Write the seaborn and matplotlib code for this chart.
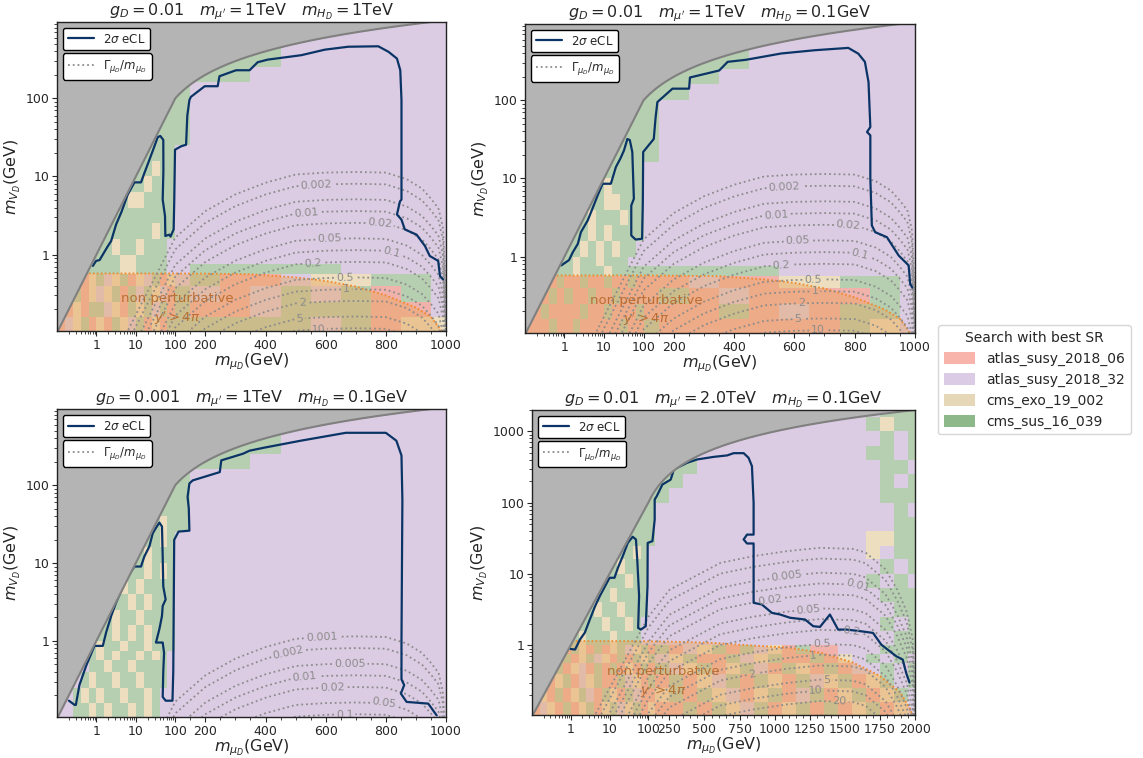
import numpy as np
import matplotlib
matplotlib.use("Agg")
import matplotlib.pyplot as plt
from matplotlib.colors import ListedColormap
from matplotlib.lines import Line2D
from matplotlib.patches import Patch
from matplotlib.ticker import FixedLocator, FixedFormatter, NullFormatter, LogLocator
import seaborn as sns

sns.set_theme(style="ticks")
plt.rcParams["font.family"] = ["DejaVu Sans"]
plt.rcParams["mathtext.fontset"] = "dejavusans"
plt.rcParams["axes.edgecolor"] = "#222222"

# ---------------------------------------------------------------- searches
search_names = ["atlas_susy_2018_06", "atlas_susy_2018_32", "cms_exo_19_002", "cms_sus_16_039"]
search_codes = "apeg"
cell_colors = ["#f0b2aa", "#dccce3", "#ecdebe", "#b5cfb0"]
legend_colors = ["#f8b3aa", "#dccbe4", "#e6d7b9", "#8db98a"]

# ---------------------------------------------------------------- mass grids (GeV)
x_edges_1tev = [0.1, 0.16, 0.25, 0.4, 0.63, 1.0, 1.6, 2.5, 4.0, 6.3, 10, 16, 25, 40, 63, 100,
                150, 250, 350, 450, 550, 650, 750, 850, 950, 1000]
x_edges_2tev = [0.1, 0.16, 0.25, 0.4, 0.63, 1.0, 1.6, 2.5, 4.0, 6.3, 10, 16, 25, 40, 63, 100,
                150, 250, 350, 450, 550, 650, 750, 850, 950, 1050, 1150, 1250, 1350, 1450,
                1550, 1650, 1750, 1850, 1950, 2000]
y_edges_1tev = [0.1, 0.16, 0.25, 0.4, 0.56, 0.75, 1.0, 1.6, 2.5, 4.0, 6.3, 10, 16, 25, 40, 63,
                100, 160, 250, 400, 630, 1000]
y_edges_2tev = y_edges_1tev + [1600, 2500]

# best signal region per grid point (rows from high to low m_VD)
best_sr_p1 = [
    "..... ..... ..... ..... ppppp",
    "..... ..... ..... ...gp ppppp",
    "..... ..... ..... ..ggp ppppp",
    "..... ..... ..... .ggpp ppppp",
    "..... ..... ..... gpppp ppppp",
    "..... ..... ....g gpppp ppppp",
    "..... ..... ...gg gpppp ppppp",
    "..... ..... ..ggg gpppp ppppp",
    "..... ..... .gggg ppppp ppppp",
    "..... ..... ggegg ppppp ppppp",
    "..... ....g geggg ppppp ppppp",
    "..... ...ge egggg ppppp ppppp",
    "..... ..ggg ggggg ppppp ppppp",
    "..... .gggg ggegg ppppp ppppp",
    "..... ggegg egggp ppppp ppppp",
    "....g gggee ggggp ppppp ppppp",
    "...gg gggee ggggp pgggg gpppp",
    "...ae gpega epgae pgaap eeggp",
    "..gae pegag pgepa gpapg pgagp",
    ".aeag gpeag egpga gaapg ggaap",
    "apega eagep gaeag ggggg pgaee",
]
best_sr_p2 = [
    "..... ..... ..... ..... ppppp",
    "..... ..... ..... ...gp ppppp",
    "..... ..... ..... ..ggp ppppp",
    "..... ..... ..... .ggpp ppppp",
    "..... ..... ..... ggppp ppppp",
    "..... ..... ....g gpppp ppppp",
    "..... ..... ...gg gpppp ppppp",
    "..... ..... ..ggg gpppp ppppp",
    "..... ..... .gggg gpppp ppppp",
    "..... ..... ggggg ppppp ppppp",
    "..... ....g egggg ppppp ppppp",
    "..... ...gg eeggg ppppp ppppp",
    "..... ..geg ggegg ppppp ppppp",
    "..... .ggeg egggg ppppp ppppp",
    "..... ggege geggp ppppp ppppp",
    "....g gegge gggpp ppppp ppppp",
    "...gg geggg egggg ggggg ppppp",
    "...ag aagaa gaaga aapaa eeggp",
    "..aga gaaga agaaa agapa aaagp",
    ".agaa aagaa gaaag aaaga paggp",
    "aaaga agaaa aagaa gaaaa aagep",
]
best_sr_p3 = [
    "..... ..... ..... ..... ppppp",
    "..... ..... ..... ...gp ppppp",
    "..... ..... ..... ..ggp ppppp",
    "..... ..... ..... .ggpp ppppp",
    "..... ..... ..... gpppp ppppp",
    "..... ..... ....g gpppp ppppp",
    "..... ..... ...gg gpppp ppppp",
    "..... ..... ..geg gpppp ppppp",
    "..... ..... .ggeg ppppp ppppp",
    "..... ..... geggg ppppp ppppp",
    "..... ....g gegeg ppppp ppppp",
    "..... ...eg egggg ppppp ppppp",
    "..... ..gge geggg ppppp ppppp",
    "..... .gegg egggg ppppp ppppp",
    "..... ggege geggg ppppp ppppp",
    "....g eggeg geggg ppppp ppppp",
    "...gg egegg egegp ppppp ppppp",
    "...pg gegge ggggp ppppp ppppp",
    "..pge ggegg egggp ppppp ppppp",
    ".pgeg eggeg gegpp ppppp ppppp",
    "ppgge gegge gegpp ppppp ppppp",
]
best_sr_p4 = [
    "..... ..... ..... ..... ..... ..... ppggg",
    "..... ..... ..... ..... ppppp ppppp pgegg",
    "..... ..... ..... ..... ppppp ppppp ppgpg",
    "..... ..... ..... ...gp ppppp ppppp pggpg",
    "..... ..... ..... ..ggp ppppp ppppp ppggp",
    "..... ..... ..... .ggpp ppppp ppppp ppgpg",
    "..... ..... ..... ggppp ppppp ppppp ppggg",
    "..... ..... ....g gpppp ppppp ppppp pppgp",
    "..... ..... ...gg gpppp ppppp ppppp pppgg",
    "..... ..... ..ggg gpppp ppppp ppppp peegg",
    "..... ..... .ggeg ppppp ppppp ppppp pepgg",
    "..... ..... geggg ppppp ppppp ppppp ppgpg",
    "..... ....g ggegg ppppp ppppp ppppp pgpgp",
    "..... ...gg egggg ppppp ppppp ppppp ppggg",
    "..... ..geg geggg ppppp ppppp ppppp pppgg",
    "..... .ggge ggegp ppppp ppppp ppppp ppgpg",
    "..... geggg egggp ppppp ppppp ppppp pppgg",
    "....a geaga egpeg agape gagpe agaap ppggg",
    "...ag aegpe agage gpega agpeg aagae pgpgp",
    "...ga epaga gaeag agpeg aegpa geaga ppgpg",
    "..aeg apega agpea gagae pgage agpeg aegpg",
    ".eaga egpag eagpa aegag epaeg apgae gaegp",
    "apeag aegae gpega eaaga gepga egaga egaep",
]

# 2 sigma expected exclusion contours
ecl_x_p1 = [0.81, 0.98, 1.2, 1.87, 2.36, 3.15, 4.3, 6.2, 9.2, 13.5, 16.4, 22, 28.4, 35.8, 41.7,
            49.7, 50, 48, 55, 56, 70.7, 76, 91, 94.4, 98.6, 119, 136, 140, 147, 152, 198, 241,
            247, 302, 347, 374, 407, 519, 597, 675, 775, 809, 837, 848, 852, 852, 847, 837,
            852, 863, 902, 930, 946, 974, 980, 990]
ecl_y_p1 = [0.716, 0.83, 0.85, 1.24, 1.49, 2.43, 3.5, 5.85, 8.4, 8.4, 11, 16.3, 23, 31.8, 33,
            29.4, 12, 5.06, 3.1, 1.73, 1.8, 1.7, 2.1, 5.06, 22, 24.3, 25.5, 60, 95, 104.5, 143,
            143, 192, 229, 229, 290, 313, 357, 420, 458, 464, 394, 323, 229, 95, 5.06, 4.8,
            3.26, 2.8, 2.1, 1.8, 1.29, 0.96, 0.83, 0.53, 0.48]
ecl_x_p2 = [0.83, 1.1, 1.3, 1.63, 2.17, 2.6, 3.87, 5.0, 6.9, 9.2, 14.9, 20, 26, 32, 39, 45, 52,
            57, 49, 49, 63, 92, 96, 98, 134, 140, 146, 196, 251, 254, 351, 379, 439, 557, 668,
            779, 812, 834, 846, 852, 841, 852, 852, 857, 868, 907, 946, 979, 984, 991]
ecl_y_p2 = [0.77, 0.85, 0.9, 1.14, 1.45, 2.05, 2.9, 4.0, 6.06, 8.55, 8.55, 14, 18, 22.8, 32, 31,
            21.8, 5.5, 4.5, 1.86, 1.65, 1.69, 5, 21.8, 32, 60, 95, 141, 141, 196, 241, 311, 330,
            398, 438, 469, 396, 311, 171, 45.5, 39.3, 35.6, 10, 2.5, 2.05, 1.77, 1.03, 0.77,
            0.45, 0.4]
ecl_x_p3 = [0.2, 0.28, 0.3, 0.37, 0.55, 0.89, 1.45, 1.76, 2.36, 3.15, 4.2, 5.65, 9.2, 13.5,
            16.4, 22, 26.8, 32, 39.5, 46, 48, 49.6, 57, 48, 46, 39.5, 32.4, 48, 52, 49.6, 48,
            57, 85, 89, 94, 111, 147, 145, 141, 147, 158, 248, 253, 325, 347, 396, 517, 667,
            800, 835, 852, 855, 852, 852, 861, 850, 869, 941, 969]
ecl_y_p3 = [0.17, 0.15, 0.15, 0.27, 0.48, 0.86, 0.86, 1.28, 2.08, 3.09, 4.3, 6.1, 9.0, 9.0,
            12.1, 16.3, 24, 28, 33, 29.4, 12.1, 5.0, 3.4, 2.8, 2.08, 1.41, 0.95, 0.95, 0.7, 0.4,
            0.19, 0.17, 0.17, 0.4, 19.8, 25.3, 26, 50, 70.6, 105, 115, 147, 208, 253, 277, 303,
            372, 470, 470, 372, 240, 64, 1.0, 0.32, 0.27, 0.21, 0.164, 0.156, 0.11]
ecl_x_p4 = [0.96, 1.29, 1.72, 2.3, 3.1, 4.2, 5.6, 10, 13.4, 16.4, 21.9, 29.4, 39.4, 47.9, 52,
            57.7, 54.5, 63.9, 85.6, 95, 96, 129, 145, 145, 160, 200, 259, 282, 377, 448, 566,
            661, 708, 779, 814, 838, 850, 850, 803, 779, 803, 850, 850, 909, 980, 1039, 1110,
            1216, 1275, 1323, 1394, 1452, 1512, 1618, 1701, 1760, 1867, 1913, 1937, 1961]
ecl_y_p4 = [0.89, 0.87, 1.2, 1.5, 2.3, 3.5, 4.9, 8.85, 8.85, 12.2, 17.8, 27.3, 33.3, 30.5, 15,
            4.9, 1.75, 1.66, 1.85, 6.7, 27.3, 28.9, 58, 111, 124, 180, 211, 293, 364, 405, 440,
            461, 496, 496, 427, 327, 100, 35.7, 35.7, 30.5, 26.8, 26.8, 3.94, 3.73, 2.85, 2.7,
            2.43, 2.3, 1.85, 1.81, 2.7, 1.66, 1.66, 1.57, 1.49, 1.02, 0.7, 0.63, 0.41, 0.3]

# width-to-mass ratio: m_VD at which Gamma/m = 0.001, and the levels shown
width_ref_level = 0.001
width_x_1tev = [0.1, 1, 10, 100, 200, 300, 400, 500, 600, 700, 800, 870, 920, 950, 975, 990, 1000]
width_y_p1 = [0.0017, 0.017, 0.17, 1.65, 3.6, 5.9, 8.3, 10.6, 11.2, 11.4, 11.2, 9.2, 7.0, 5.2,
              3.9, 2.2, 0.3]
width_y_p3 = [0.00017, 0.0017, 0.017, 0.165, 0.36, 0.59, 0.83, 1.06, 1.12, 1.14, 1.12, 0.92,
              0.70, 0.52, 0.39, 0.22, 0.03]
width_x_2tev = [0.1, 1, 10, 100, 250, 613, 848, 1086, 1323, 1558, 1648, 1790, 1873, 1940, 1985, 2000]
width_y_p4 = [0.0025, 0.025, 0.25, 2.5, 6.0, 14.3, 17.8, 20.9, 23.3, 22.5, 20.0, 11.6, 6.05, 3.0,
              1.2, 0.1]
width_levels = [0.001, 0.002, 0.005, 0.01, 0.02, 0.05, 0.1, 0.2, 0.5, 1, 2, 5, 10, 20, 50]

wlab_x_p1 = [569, 536, 780, 613, 819, 558, 663, 669, 522, 513, 575]
wlab_y_p1 = [7.5, 3.26, 2.5, 1.57, 1.09, 0.75, 0.52, 0.36, 0.252, 0.157, 0.117]
wlab_x_p2 = [567, 540, 779, 612, 818, 557, 662, 668, 623, 612, 679]
wlab_y_p2 = [7.6, 3.3, 2.5, 1.57, 1.08, 0.77, 0.52, 0.356, 0.25, 0.156, 0.116]
wlab_x_p3 = [586, 477, 680, 530, 622, 795, 663]
wlab_y_p3 = [1.1, 0.69, 0.52, 0.33, 0.255, 0.16, 0.12]
wlab_x_p4 = [1086, 1594, 963, 1240, 1548, 1335, 1275, 838, 1370, 1294, 1464]
wlab_y_p4 = [9.5, 7.1, 4.48, 3.24, 1.62, 1.02, 0.72, 0.40, 0.33, 0.226, 0.163]

# y' > 4 pi boundary
npert_x_1tev = [0.1, 100, 200, 350, 500, 600, 700, 800, 900, 950, 985, 992]
npert_y_1tev = [0.573, 0.573, 0.57, 0.56, 0.51, 0.46, 0.39, 0.30, 0.21, 0.16, 0.105, 0.09]
npert_x_2tev = [0.1, 100, 300, 567, 808, 1092, 1326, 1560, 1752, 1894, 1965, 1995]
npert_y_2tev = [1.15, 1.14, 1.12, 1.08, 1.0, 0.93, 0.79, 0.57, 0.37, 0.22, 0.128, 0.09]

titles = [
    r"$g_D = 0.01\quad m_{\mu'} = 1$TeV$\quad m_{H_D} = 1$TeV",
    r"$g_D = 0.01\quad m_{\mu'} = 1$TeV$\quad m_{H_D} = 0.1$GeV",
    r"$g_D = 0.001\quad m_{\mu'} = 1$TeV$\quad m_{H_D} = 0.1$GeV",
    r"$g_D = 0.01\quad m_{\mu'} = 2.0$TeV$\quad m_{H_D} = 0.1$GeV",
]
xticks_1tev = [1, 10, 100, 200, 400, 600, 800, 1000]
xticks_2tev = [1, 10, 100, 250, 500, 750, 1000, 1250, 1500, 1750, 2000]

# ---------------------------------------------------------------- styling
navy = "#0b3466"
width_gray = "#8c8c8c"
excluded_gray = "#b4b4b4"
npert_fill = "#e9a258"
npert_text = "#b5672a"


def mixed_scale(xmax):
    """log10 below 100 GeV, linear above."""
    k = (xmax - 100.0) / 6.87

    def fwd(x):
        x = np.asarray(x, dtype=float)
        return np.where(x <= 100, np.log10(np.clip(x, 1e-12, None)), 2 + (x - 100) / k)

    def inv(u):
        u = np.asarray(u, dtype=float)
        return np.where(u <= 2, 10 ** np.clip(u, -12, 2), 100 + (u - 2) * k)

    return fwd, inv


panels = [
    dict(rect=[0.0499, 0.5633, 0.3403, 0.4077], title=titles[0], xmax=1000, ytop=950,
         xticks=xticks_1tev, yticks=[1, 10, 100], xe=x_edges_1tev, ye=y_edges_1tev,
         cells=best_sr_p1, ex=ecl_x_p1, ey=ecl_y_p1, wx=width_x_1tev, wy=width_y_p1,
         lx=wlab_x_p1, ly=wlab_y_p1, npx=npert_x_1tev, npy=npert_y_1tev,
         nptxt=(0.31, 0.07)),
    dict(rect=[0.4593, 0.5607, 0.3412, 0.4077], title=titles[1], xmax=1000, ytop=950,
         xticks=xticks_1tev, yticks=[1, 10, 100], xe=x_edges_1tev, ye=y_edges_1tev,
         cells=best_sr_p2, ex=ecl_x_p2, ey=ecl_y_p2, wx=width_x_1tev, wy=width_y_p1,
         lx=wlab_x_p2, ly=wlab_y_p2, npx=npert_x_1tev, npy=npert_y_1tev,
         nptxt=(0.312, 0.07)),
    dict(rect=[0.0499, 0.0541, 0.3403, 0.4063], title=titles[2], xmax=1000, ytop=950,
         xticks=xticks_1tev, yticks=[1, 10, 100], xe=x_edges_1tev, ye=y_edges_1tev,
         cells=best_sr_p3, ex=ecl_x_p3, ey=ecl_y_p3, wx=width_x_1tev, wy=width_y_p3,
         lx=wlab_x_p3, ly=wlab_y_p3, npx=None, npy=None, nptxt=None),
    dict(rect=[0.4654, 0.0567, 0.3351, 0.4024], title=titles[3], xmax=2000, ytop=2000,
         xticks=xticks_2tev, yticks=[1, 10, 100, 1000], xe=x_edges_2tev, ye=y_edges_2tev,
         cells=best_sr_p4, ex=ecl_x_p4, ey=ecl_y_p4, wx=width_x_2tev, wy=width_y_p4,
         lx=wlab_x_p4, ly=wlab_y_p4, npx=npert_x_2tev, npy=npert_y_2tev,
         nptxt=(0.344, 0.107)),
]

fig = plt.figure(figsize=(11.43, 7.58), dpi=100)
cell_cmap = ListedColormap(cell_colors)
ybot = 0.105

for p in panels:
    ax = fig.add_axes(p["rect"])
    xmax, ytop = p["xmax"], p["ytop"]
    fwd, inv = mixed_scale(xmax)
    ax.set_xscale("function", functions=(fwd, inv))
    ax.set_yscale("log")
    ax.set_xlim(0.1, xmax)
    ax.set_ylim(ybot, ytop)

    # best signal region map
    codes = np.array([[search_codes.find(ch) if ch != "." else np.nan
                       for ch in row.replace(" ", "")] for row in p["cells"][::-1]], dtype=float)
    ax.pcolormesh(np.array(p["xe"], float), np.array(p["ye"], float),
                  np.ma.masked_invalid(codes), cmap=cell_cmap, vmin=-0.5, vmax=3.5,
                  shading="flat", edgecolors="none", antialiased=False, zorder=0.5)

    # non-perturbative region
    if p["npx"] is not None:
        ax.fill_between(p["npx"], ybot * 0.5, p["npy"], color=npert_fill, alpha=0.42,
                        lw=0, zorder=1)
        ax.plot(p["npx"], p["npy"], color="#f08a2c", ls=(0, (1, 1.2)), lw=1.3, zorder=1.1)
        ax.text(*p["nptxt"], "non perturbative\n$y' > 4\\pi$", transform=ax.transAxes,
                ha="center", va="center", color=npert_text, fontsize=9.5, alpha=0.9,
                linespacing=1.3, zorder=5)

    # Gamma / m contours
    u = np.linspace(fwd(0.1), fwd(xmax), 800)
    gx = inv(u)
    gy = np.geomspace(0.09, ytop * 1.1, 500)
    yref = 10 ** np.interp(u, fwd(np.array(p["wx"], float)), np.log10(p["wy"]))
    Z = width_ref_level * (yref[None, :] / gy[:, None]) ** 2
    cs = ax.contour(gx, gy, Z, levels=width_levels, colors=width_gray, linestyles=":",
                    linewidths=1.3, zorder=2)
    ax.clabel(cs, manual=list(zip(p["lx"], p["ly"])), inline=True,
              inline_spacing=2, fmt=lambda v: f"{v:g}", fontsize=8, colors=width_gray)

    # expected exclusion
    sns.lineplot(x=p["ex"], y=p["ey"], sort=False, estimator=None, color=navy, lw=1.6,
                 ax=ax, zorder=3, legend=False)

    # kinematically forbidden: m_VD > m_muD
    bx = np.concatenate([np.geomspace(0.1, 100, 40), np.linspace(100, xmax, 400)[1:]])
    ax.fill_between(bx, bx, ytop * 2, color=excluded_gray, lw=0, zorder=4)
    ax.plot(bx, bx, color="#808080", lw=1.5, zorder=4.5)

    ax.set_xlim(0.1, xmax)
    ax.set_ylim(ybot, ytop)

    xt = p["xticks"]
    ax.xaxis.set_major_locator(FixedLocator(xt))
    ax.xaxis.set_major_formatter(FixedFormatter([f"{t:g}" for t in xt]))
    minor = [m * d for d in (0.1, 1, 10) for m in range(2, 10)]
    minor += [v for v in range(150, xmax, 50) if v not in xt]
    ax.xaxis.set_minor_locator(FixedLocator(minor))
    ax.xaxis.set_minor_formatter(NullFormatter())
    yt = p["yticks"]
    ax.yaxis.set_major_locator(FixedLocator(yt))
    ax.yaxis.set_major_formatter(FixedFormatter([f"{t:g}" for t in yt]))
    ax.yaxis.set_minor_locator(LogLocator(base=10, subs=np.arange(2, 10)))
    ax.yaxis.set_minor_formatter(NullFormatter())
    ax.tick_params(which="major", length=3.5, width=0.8, labelsize=9, pad=2)
    ax.tick_params(which="minor", length=2, width=0.6)
    for s in ax.spines.values():
        s.set_linewidth(1.0)
        s.set_zorder(6)

    ax.set_title(p["title"], fontsize=11.5, pad=4)
    ax.set_xlabel(r"$m_{\mu_D}$(GeV)", fontsize=11.5, labelpad=0)
    ax.set_ylabel(r"$m_{V_D}$(GeV)", fontsize=11.5, labelpad=2)

    leg1 = ax.legend(handles=[Line2D([], [], color=navy, lw=1.6)], labels=[r"2$\sigma$ eCL"],
                     loc="upper left", fontsize=8.5, framealpha=1, handlelength=2.2)
    leg1.get_frame().set_edgecolor("black")
    leg1.set_zorder(10)
    ax.add_artist(leg1)
    leg2 = ax.legend(handles=[Line2D([], [], color=width_gray, lw=1.3, ls=":")],
                     labels=[r"$\Gamma_{\mu_D}/m_{\mu_D}$"], loc="upper left",
                     bbox_to_anchor=(0.0, 0.918), fontsize=8.5, framealpha=1, handlelength=2.2)
    leg2.get_frame().set_edgecolor("black")
    leg2.set_zorder(10)

handles = [Patch(facecolor=c, edgecolor="none") for c in legend_colors]
fig.legend(handles=handles, labels=search_names, title="Search with best SR",
           loc="center left", bbox_to_anchor=(0.8206, 0.499), borderaxespad=0,
           fontsize=10, title_fontsize=10, handlelength=2.3, handleheight=0.9,
           frameon=True)

fig.savefig("out.png", dpi=100)
